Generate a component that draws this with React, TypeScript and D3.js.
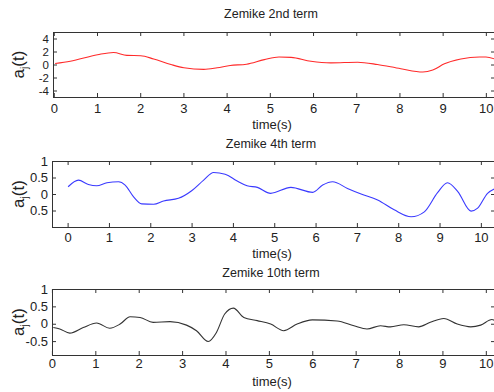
import React from "react";
import * as d3 from "d3";

const W = 494;
const H = 392;

// Panel 1: Zernike 2nd term (red)
const t1 = [0.02, 0.37, 1.0, 1.37, 1.68, 2.0, 2.3, 2.7, 3.0, 3.46, 3.77, 4.07, 4.45, 4.86, 5.2, 5.48, 5.94, 6.4, 7.02, 7.48, 8.02, 8.53, 8.76, 9.03, 9.41, 9.84, 9.99, 10.19];
const v1 = [0.15, 0.5, 1.5, 1.85, 1.4, 1.35, 0.85, 0.0, -0.5, -0.75, -0.5, -0.15, 0.05, 0.75, 1.15, 1.1, 0.5, 0.25, 0.35, 0.0, -0.65, -1.15, -0.85, 0.1, 0.85, 1.15, 1.15, 0.85];

// Panel 2: Zernike 4th term (blue)
const t2 = [0.0, 0.25, 0.49, 0.69, 0.94, 1.22, 1.38, 1.58, 1.78, 2.07, 2.31, 2.67, 2.99, 3.28, 3.52, 3.8, 4.08, 4.33, 4.58, 4.9, 5.39, 5.92, 6.16, 6.4, 6.76, 7.09, 7.49, 7.89, 8.3, 8.62, 8.94, 9.18, 9.43, 9.75, 9.91, 10.15, 10.31];
const v2 = [0.22, 0.42, 0.29, 0.25, 0.34, 0.37, 0.27, -0.08, -0.3, -0.31, -0.21, -0.13, 0.1, 0.42, 0.65, 0.6, 0.4, 0.25, 0.2, 0.02, 0.2, 0.05, 0.27, 0.37, 0.17, 0.0, -0.18, -0.48, -0.69, -0.54, 0.04, 0.34, 0.07, -0.52, -0.43, 0.02, 0.15];

// Panel 3: Zernike 10th term (black)
const t3 = [0.02, 0.17, 0.4, 0.71, 1.02, 1.32, 1.56, 1.79, 2.02, 2.32, 2.71, 3.09, 3.32, 3.59, 3.78, 3.97, 4.17, 4.41, 4.72, 5.03, 5.33, 5.64, 5.99, 6.56, 6.95, 7.25, 7.56, 7.79, 8.1, 8.44, 8.71, 9.02, 9.33, 9.64, 9.87, 10.13, 10.2];
const v3 = [-0.11, -0.15, -0.27, -0.11, 0.02, -0.13, -0.01, 0.2, 0.18, 0.04, 0.06, -0.04, -0.2, -0.51, -0.25, 0.28, 0.45, 0.18, 0.09, -0.01, -0.2, -0.01, 0.11, 0.08, -0.06, -0.15, -0.06, -0.09, -0.03, -0.09, 0.04, 0.15, -0.01, -0.09, -0.04, 0.12, 0.09];

const xTicks = [0, 1, 2, 3, 4, 5, 6, 7, 8, 9, 10];
const xTickLabels = ["0", "1", "2", "3", "4", "5", "6", "7", "8", "9", "10"];

const yTicks1 = [4, 2, 0, -2, -4];
const yTickLabels1 = ["4", "2", "0", "-2", "-4"];
const yTicks2 = [1, 0.5, 0, -0.5];
const yTickLabels2 = ["1", "0.5", "0", "0.5"];
const yTicks3 = [1, 0.5, 0, -0.5];
const yTickLabels3 = ["1", "0.5", "0", "-0.5"];

const titles = ["Zemike 2nd term", "Zemike 4th term", "Zemike 10th term"];
const xLabel = "time(s)";

const FONT = "'Liberation Sans', Arial, sans-serif";

type PanelProps = {
  left: number; right: number; top: number; bottom: number;
  xDomain: [number, number]; yDomain: [number, number];
  ts: number[]; vs: number[]; color: string;
  yTicks: number[]; yLabels: string[]; yFont: number;
  title: string; titleY: number; tickLabelY: number; xLabelY: number;
  clipId: string;
};

function Panel(p: PanelProps) {
  const x = d3.scaleLinear().domain(p.xDomain).range([p.left, p.right]);
  const y = d3.scaleLinear().domain(p.yDomain).range([p.bottom, p.top]);
  const pts: [number, number][] = p.ts.map((t, i) => [t, p.vs[i]]);
  const line = d3.line<[number, number]>()
    .x((d) => x(d[0]))
    .y((d) => y(d[1]))
    .curve(d3.curveMonotoneX);
  const tl = 4;
  const axisColor = "#333";
  return (
    <g>
      <defs>
        <clipPath id={p.clipId}>
          <rect x={p.left} y={p.top} width={p.right - p.left} height={p.bottom - p.top} />
        </clipPath>
      </defs>
      <text x={271} y={p.titleY} fontSize={12.5} textAnchor="middle" fill="#222" fontFamily={FONT}>{p.title}</text>
      <path d={line(pts) || ""} fill="none" stroke={p.color} strokeWidth={1.1} clipPath={`url(#${p.clipId})`} />
      <rect x={p.left + 0.5} y={p.top + 0.5} width={p.right - p.left} height={p.bottom - p.top} fill="none" stroke={axisColor} strokeWidth={1} />
      {xTicks.map((t, i) => (
        <g key={"x" + i}>
          <line x1={x(t)} x2={x(t)} y1={p.bottom} y2={p.bottom - tl} stroke={axisColor} />
          <line x1={x(t)} x2={x(t)} y1={p.top} y2={p.top + tl} stroke={axisColor} />
          <text x={x(t)} y={p.tickLabelY} fontSize={13} textAnchor="middle" fill="#222" fontFamily={FONT}>{xTickLabels[i]}</text>
        </g>
      ))}
      {p.yTicks.map((t, i) => (
        <g key={"y" + i}>
          <line x1={p.left} x2={p.left + tl} y1={y(t) + 0.5} y2={y(t) + 0.5} stroke={axisColor} />
          <line x1={p.right - tl} x2={p.right} y1={y(t) + 0.5} y2={y(t) + 0.5} stroke={axisColor} />
          <text x={p.left - 4} y={y(t) + p.yFont * 0.36} fontSize={p.yFont} textAnchor="end" fill="#222" fontFamily={FONT}>{p.yLabels[i]}</text>
        </g>
      ))}
      <text x={272} y={p.xLabelY} fontSize={13} textAnchor="middle" fill="#222" fontFamily={FONT}>{xLabel}</text>
      <text transform={`translate(24, ${(p.top + p.bottom) / 2}) rotate(-90)`} fontSize={17} textAnchor="middle" fill="#222" fontFamily={FONT}>
        a<tspan fontSize={10} dy={4}>j</tspan><tspan dy={-4}>(t)</tspan>
      </text>
    </g>
  );
}

export default function App() {
  return (
    <svg width={W} height={H} style={{ position: "absolute", left: 0, top: 0, background: "#fff" }}>
      <rect width={W} height={H} fill="#fff" />
      <Panel left={53} right={495} top={32} bottom={97} xDomain={[-0.03, 10.2]} yDomain={[-5, 5]}
        ts={t1} vs={v1} color="#ff2a2a" yTicks={yTicks1} yLabels={yTickLabels1} yFont={11.5}
        title={titles[0]} titleY={18} tickLabelY={113} xLabelY={129} clipId="c1" />
      <Panel left={52} right={495} top={161} bottom={227} xDomain={[-0.39, 10.33]} yDomain={[-1, 1]}
        ts={t2} vs={v2} color="#3a3aff" yTicks={yTicks2} yLabels={yTickLabels2} yFont={13}
        title={titles[1]} titleY={148} tickLabelY={242} xLabelY={258} clipId="c2" />
      <Panel left={52} right={495} top={289} bottom={355} xDomain={[-0.01, 10.2]} yDomain={[-0.9, 1]}
        ts={t3} vs={v3} color="#333" yTicks={yTicks3} yLabels={yTickLabels3} yFont={13}
        title={titles[2]} titleY={277} tickLabelY={368} xLabelY={386} clipId="c3" />
    </svg>
  );
}
